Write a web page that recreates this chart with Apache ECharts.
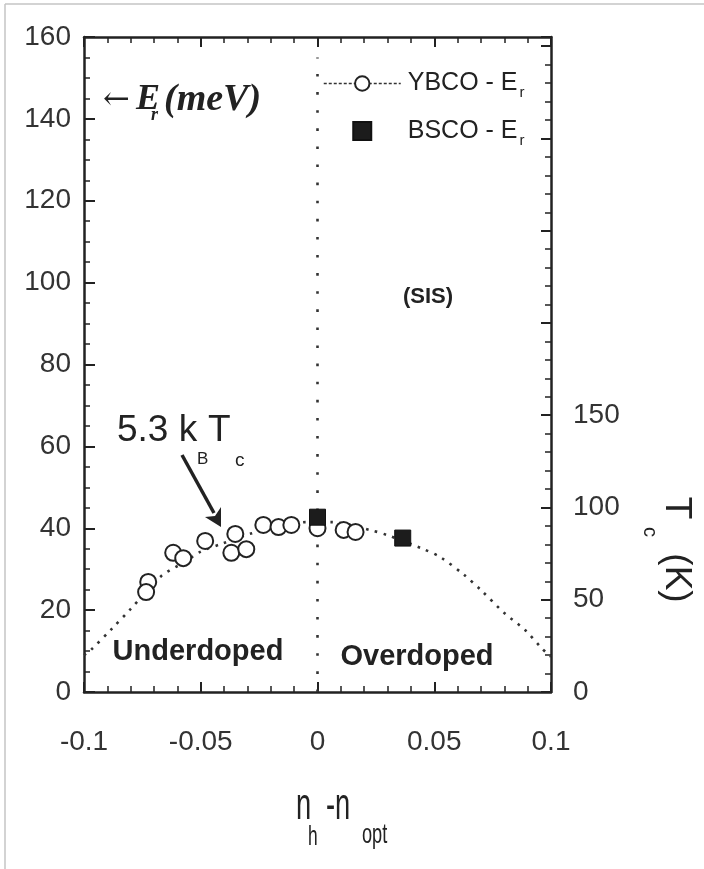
<!DOCTYPE html>
<html>
<head>
<meta charset="utf-8">
<script src="https://cdn.jsdelivr.net/npm/echarts@6/dist/echarts.min.js"></script>
<style>
html,body{margin:0;padding:0;background:#fff;}
#chart{width:704px;height:869px;}
</style>
</head>
<body>
<div id="chart"></div>
<script>
// YBCO resonance energy (open circles)
var ybcoX = [-0.0725, -0.0734, -0.0618, -0.0575, -0.0481, -0.0352, -0.0369, -0.0305, -0.0232, -0.0167, -0.0112, 0, 0.0112, 0.0163];
var ybcoE = [26.9, 24.4, 34.0, 32.7, 36.9, 38.6, 34.0, 34.9, 40.8, 40.3, 40.8, 40.0, 39.6, 39.1];
// BSCO resonance energy (filled squares)
var bscoX = [0, 0.0365];
var bscoE = [42.7, 37.6];
// dotted dome  (5.3 kB Tc)
var domeX = [-0.1, -0.097, -0.088, -0.08, -0.067, -0.057, -0.05, -0.041, -0.028, -0.015, -0.005, 0.006, 0.023, 0.03, 0.045, 0.053, 0.063, 0.07, 0.08, 0.089, 0.096, 0.1];
var domeE = [9, 10.3, 15.5, 20.3, 28.3, 31.7, 34.3, 36.2, 38.8, 40.5, 41.5, 41.5, 39.5, 38.3, 35, 32.8, 28.5, 24.9, 19.3, 15.1, 10.7, 8.6];
// optimal doping line
var optX = [0, 0];
var optE = [0, 155];
var tcLabels = [0, 50, 100, 150];
var tcMax = 355;

function zip(a, b){
    var out = [];
    for (var i = 0; i < a.length; i++) out.push([a[i], b[i]]);
    return out;
}

var sans = '"Liberation Sans", Arial, sans-serif';
var serif = '"Liberation Serif", "Times New Roman", serif';
var ink = '#222';

function txt(x, y, s, size, opt){
    opt = opt || {};
    return {
        type: 'text', x: x, y: y, z: 50,
        rotation: opt.rotation || 0,
        scaleX: opt.scaleX || 1,
        style: {
            text: s,
            fontSize: size,
            fontFamily: opt.family || sans,
            fontWeight: opt.weight || 'normal',
            fontStyle: opt.style || 'normal',
            fill: opt.fill || ink,
            align: opt.align || 'left',
            verticalAlign: 'middle'
        }
    };
}

var chart = echarts.init(document.getElementById('chart'));

function axisLine(){
    return {show: true, onZero: false, lineStyle: {color: ink, width: 2.5}};
}
function majorTick(len){
    return {show: true, inside: true, length: len, lineStyle: {color: ink, width: 2}};
}
function minor(n){
    return {show: true, splitNumber: n, length: 6, lineStyle: {color: ink, width: 1.5}};
}

var option = {
    backgroundColor: '#fff',
    animation: false,
    grid: {left: 84, right: 153, top: 37, bottom: 177, outerBoundsMode: 'none'},
    legend: {
        left: 318, top: 66, orient: 'vertical',
        itemWidth: 77, itemHeight: 18, itemGap: 18,
        selectedMode: false,
        data: [
            {name: 'YBCO'},
            {name: 'BSCO', icon: 'path://M0 0H10V10H0Z'}
        ],
        symbolKeepAspect: true,
        lineStyle: {type: [3, 2], width: 1.5, color: '#333', opacity: 1},
        formatter: function(name){ return '{m|' + name + ' - E}{s|r}'; },
        textStyle: {
            rich: {
                m: {fontFamily: sans, fontSize: 25, color: ink, padding: [0, 0, 0, 2]},
                s: {fontFamily: sans, fontSize: 15, color: ink, padding: [19, 0, 0, 2]}
            }
        }
    },
    xAxis: [{
        type: 'value', min: -0.1, max: 0.1, interval: 0.05,
        axisLine: axisLine(),
        axisTick: majorTick(10),
        minorTick: minor(5),
        splitLine: {show: false},
        axisLabel: {margin: 36, fontSize: 28, fontFamily: sans, color: '#333'}
    }, {
        type: 'value', min: -0.1, max: 0.1, interval: 0.05, position: 'top',
        axisLine: axisLine(),
        axisTick: majorTick(10),
        minorTick: minor(5),
        splitLine: {show: false},
        axisLabel: {show: false}
    }],
    yAxis: [{
        type: 'value', min: 0, max: 160, interval: 20,
        axisLine: axisLine(),
        axisTick: majorTick(11),
        minorTick: minor(4),
        splitLine: {show: false},
        axisLabel: {margin: 13, fontSize: 28, fontFamily: sans, color: '#333'}
    }, {
        type: 'value', min: 0, max: tcMax, interval: 50, position: 'right',
        axisLine: axisLine(),
        axisTick: majorTick(10),
        minorTick: minor(5),
        splitLine: {show: false},
        axisLabel: {
            margin: 22, fontSize: 28, fontFamily: sans, color: '#333',
            formatter: function(v){ return tcLabels.indexOf(v) >= 0 ? String(v) : ''; }
        }
    }],
    series: [{
        name: 'dome', type: 'line', smooth: 0.3, symbol: 'none',
        data: zip(domeX, domeE),
        lineStyle: {color: '#333', width: 2.6, type: [2.6, 6.5]},
        silent: true, z: 1
    }, {
        name: 'opt', type: 'line', symbol: 'none',
        data: zip(optX, optE),
        lineStyle: {color: '#333', width: 2.6, type: [2.6, 15.5]},
        silent: true, z: 1
    }, {
        name: 'YBCO', type: 'line', symbol: 'circle', symbolSize: 16,
        data: zip(ybcoX, ybcoE),
        lineStyle: {opacity: 0},
        itemStyle: {color: '#fff', borderColor: '#222', borderWidth: 2},
        z: 3
    }, {
        name: 'BSCO', type: 'scatter', symbol: 'rect', symbolSize: 16,
        data: zip(bscoX, bscoE),
        itemStyle: {color: '#1c1c1c', borderColor: '#111', borderWidth: 1, opacity: 1},
        z: 4
    }],
    graphic: [
        // light frame of the scanned figure
        {type: 'line', shape: {x1: 5, y1: 4, x2: 704, y2: 4}, style: {stroke: '#c4c4c4', lineWidth: 1.5}},
        {type: 'line', shape: {x1: 5, y1: 4, x2: 5, y2: 869}, style: {stroke: '#c4c4c4', lineWidth: 1.5}},
        // <- E_r (meV)
        txt(103, 101, '\u2190', 32, {family: '"DejaVu Serif", serif'}),
        txt(136, 100, 'E', 36, {family: serif, weight: 'bold', style: 'italic'}),
        txt(151, 115, 'r', 18, {family: serif, weight: 'bold', style: 'italic'}),
        txt(164, 100, '(meV)', 38, {family: serif, weight: 'bold', style: 'italic'}),
        // (SIS)
        txt(428, 297, '(SIS)', 22, {weight: 'bold', align: 'center'}),
        // 5.3 kB Tc
        txt(117, 431, '5.3 k', 37),
        txt(197, 459, 'B', 17),
        txt(208, 431, 'T', 37),
        txt(235, 461, 'c', 19),
        {type: 'polyline', z: 50, shape: {points: [[182, 455], [214, 513]]}, style: {stroke: ink, lineWidth: 3.5, fill: null}},
        {type: 'polygon', z: 50, shape: {points: [[221, 527], [205, 517], [215, 516], [221, 507]]}, style: {fill: ink}},
        // doping regions
        txt(198, 652, 'Underdoped', 29, {weight: 'bold', align: 'center'}),
        txt(417, 657, 'Overdoped', 29, {weight: 'bold', align: 'center'}),
        // right axis title Tc (K)
        txt(676, 508, 'T', 37, {rotation: -Math.PI / 2, align: 'center'}),
        txt(650, 532, 'c', 20, {rotation: -Math.PI / 2, align: 'center'}),
        txt(676, 578, '(K)', 37, {rotation: -Math.PI / 2, align: 'center'}),
        // x axis title nh - nopt
        txt(296, 807, 'n', 44, {scaleX: 0.62}),
        txt(308, 837, 'h', 28, {scaleX: 0.62}),
        txt(326, 807, '-n', 44, {scaleX: 0.62}),
        txt(362, 835, 'opt', 28, {scaleX: 0.65})
    ]
};

chart.setOption(option);
</script>
</body>
</html>
